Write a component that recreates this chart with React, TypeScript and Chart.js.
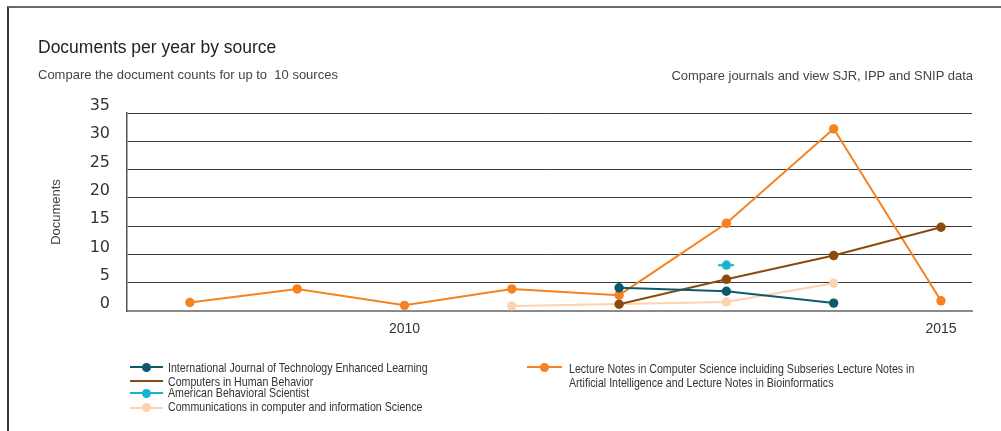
import React, { useEffect, useRef } from "react";
import { Chart, registerables } from "chart.js";

Chart.register(...registerables);

// ---- data ----
const years = [2008, 2009, 2010, 2011, 2012, 2013, 2014, 2015];
const ijtelDocs = [null, null, null, null, 4.1, 3.5, 1.4, null];
const lncsDocs = [1.5, 3.9, 1.0, 3.9, 2.8, 15.5, 32.2, 1.8];
const chbDocs = [null, null, null, null, 1.2, 5.6, 9.8, 14.8];
const absDocs = [null, null, null, null, null, 8.1, null, null];
const ccisDocs = [null, null, null, 0.9, null, 1.6, 4.9, null];
const xTickYears = [2010, 2015];
const yTickValues = [0, 5, 10, 15, 20, 25, 30, 35];

const nameIjtel = "International Journal of Technology Enhanced Learning";
const nameLncs =
  "Lecture Notes in Computer Science incluiding Subseries Lecture Notes in Artificial Intelligence and Lecture Notes in Bioinformatics";
const nameChb = "Computers in Human Behavior";
const nameAbs = "American Behavioral Scientist";
const nameCcis = "Communications in computer and information Science";

const colIjtel = "#0E5A6D";
const colLncs = "#F5821F";
const colChb = "#8C4B0C";
const colAbs = "#17B5CD";
const colCcis = "#FDD2AD";

const SANS = "'Liberation Sans', Arial, sans-serif";

function Txt(props: any) {
  const { x, baseline, size, family, color, children, align, width, lineHeight, sx } = props;
  const L = lineHeight ?? size;
  const top = baseline - (L - 1.117 * size) / 2 - 0.905 * size;
  const style: any = {
    position: "absolute",
    top,
    fontSize: size,
    lineHeight: L + "px",
    fontFamily: family,
    color,
    whiteSpace: width ? "normal" : "nowrap",
  };
  if (align === "right") style.right = 1001 - x;
  else style.left = x;
  if (width) style.width = width;
  if (sx) {
    style.transform = `scaleX(${sx})`;
    style.transformOrigin = "left top";
  }
  return <div style={style}>{children}</div>;
}

function Marker(props: any) {
  const { x0, x1, y, color, dot } = props;
  const cx = (x0 + x1) / 2;
  const r = 4.7;
  return (
    <>
      <div style={{ position: "absolute", left: x0, top: y - 1, width: x1 - x0, height: 2, background: color }} />
      {dot && (
        <div
          style={{
            position: "absolute",
            left: cx - r,
            top: y - r,
            width: 2 * r,
            height: 2 * r,
            borderRadius: "50%",
            background: color,
          }}
        />
      )}
    </>
  );
}

export default function App() {
  const canvasRef = useRef<HTMLCanvasElement>(null);

  useEffect(() => {
    const canvas = canvasRef.current!;
    const toPoints = (arr: (number | null)[]) =>
      years.map((x, i) => ({ x, y: arr[i] })).filter((p) => p.y !== null);

    // point with short horizontal stub (single-value series)
    const stub = document.createElement("canvas");
    stub.width = 16;
    stub.height = 10;
    const sctx = stub.getContext("2d")!;
    sctx.strokeStyle = colAbs;
    sctx.lineWidth = 2;
    sctx.beginPath();
    sctx.moveTo(0, 5);
    sctx.lineTo(16, 5);
    sctx.stroke();
    sctx.fillStyle = colAbs;
    sctx.beginPath();
    sctx.arc(8, 5, 4.7, 0, Math.PI * 2);
    sctx.fill();

    const ds = (label: string, arr: any[], color: string, order: number, extra: any = {}) => ({
      label,
      data: toPoints(arr),
      borderColor: color,
      backgroundColor: color,
      pointBackgroundColor: color,
      pointBorderWidth: 0,
      pointRadius: 4.7,
      borderWidth: 2,
      tension: 0,
      order,
      ...extra,
    });

    const chart = new Chart(canvas, {
      type: "line",
      data: {
        datasets: [
          ds(nameIjtel, ijtelDocs, colIjtel, 1),
          ds(nameLncs, lncsDocs, colLncs, 3),
          ds(nameChb, chbDocs, colChb, 2),
          ds(nameAbs, absDocs, colAbs, 0, { pointStyle: stub }),
          ds(nameCcis, ccisDocs, colCcis, 4),
        ],
      },
      options: {
        animation: false,
        responsive: false,
        devicePixelRatio: 1,
        layout: { padding: { left: 0, right: 29, top: 113, bottom: 90 } },
        plugins: {
          legend: { display: false },
          tooltip: { enabled: false },
          title: { display: false },
        },
        scales: {
          x: {
            type: "linear",
            min: 2007.414,
            max: 2015.289,
            afterBuildTicks: (s: any) => {
              s.ticks = xTickYears.map((v) => ({ value: v }));
            },
            afterFit: (s: any) => {
              s.height = 30;
            },
            ticks: {
              callback: (v: any) => String(v),
              font: { family: SANS, size: 14 },
              color: "#333",
              padding: 10,
              maxRotation: 0,
            },
            grid: { display: false, drawTicks: false },
            border: { display: true, color: "#8a8a8a", width: 2 },
          },
          y: {
            min: 0,
            max: 35,
            afterBuildTicks: (s: any) => {
              s.ticks = yTickValues.map((v) => ({ value: v }));
            },
            afterFit: (s: any) => {
              s.width = 127;
            },
            ticks: {
              font: { family: "'DejaVu Sans', sans-serif", size: 16 },
              color: "#333",
              padding: 17,
              labelOffset: -7,
            },
            grid: {
              drawTicks: false,
              color: (c: any) => (c.tick && c.tick.value === 0 ? "#8a8a8a" : "#3a3a3a"),
              lineWidth: (c: any) => (c.tick && c.tick.value === 0 ? 2 : 1),
            },
            border: { display: true, color: "#555", width: 1.5 },
            title: {
              display: true,
              text: "Documents",
              font: { family: SANS, size: 13 },
              color: "#444",
              padding: { top: 49, bottom: 0 },
            },
          },
        },
      },
    } as any);
    return () => chart.destroy();
  }, []);

  const LS = 12.8; // legend font size
  const SX = 0.83; // condensed legend text

  return (
    <div
      style={{
        position: "fixed",
        left: 0,
        top: 0,
        width: 1001,
        height: 431,
        background: "#fff",
        overflow: "hidden",
      }}
    >
      <div
        style={{
          position: "absolute",
          left: 7,
          top: 6,
          width: 1010,
          height: 440,
          borderTop: "2px solid #6a6a6a",
          borderLeft: "2px solid #3a3a3a",
        }}
      />
      <canvas
        ref={canvasRef}
        width={1001}
        height={431}
        style={{ position: "absolute", left: 0, top: 0, width: 1001, height: 431 }}
      />
      <Txt x={38} baseline={54.3} size={17.5} family={SANS} color="#222">
        Documents per year by source
      </Txt>
      <Txt x={38} baseline={79} size={13} family={SANS} color="#444">
        Compare the document counts for up to{"\u00a0 "}10 sources
      </Txt>
      <Txt x={973} baseline={80.5} size={13} family={SANS} color="#444" align="right">
        Compare journals and view SJR, IPP and SNIP data
      </Txt>

      <Marker x0={130} x1={163} y={367.3} color={colIjtel} dot />
      <Txt x={168} baseline={373.3} size={LS} family={SANS} color="#333" sx={SX}>
        {nameIjtel}
      </Txt>
      <Marker x0={130} x1={163} y={381} color={colChb} />
      <Txt x={168} baseline={386.7} size={LS} family={SANS} color="#333" sx={SX}>
        {nameChb}
      </Txt>
      <Marker x0={130} x1={163} y={393.3} color={colAbs} dot />
      <Txt x={168} baseline={397.8} size={LS} family={SANS} color="#333" sx={SX}>
        {nameAbs}
      </Txt>
      <Marker x0={130} x1={163} y={407.5} color={colCcis} dot />
      <Txt x={168} baseline={412} size={LS} family={SANS} color="#333" sx={SX}>
        {nameCcis}
      </Txt>

      <Marker x0={527} x1={562} y={367.3} color={colLncs} dot />
      <Txt
        x={569}
        baseline={373.3}
        size={LS}
        family={SANS}
        color="#333"
        width={432}
        lineHeight={13.4}
        sx={SX}
      >
        {nameLncs}
      </Txt>
    </div>
  );
}
